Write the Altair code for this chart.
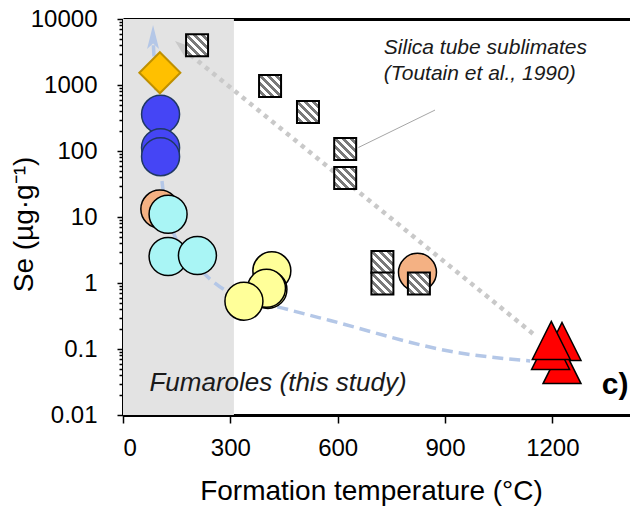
import altair as alt
import pandas as pd

FONT = "Liberation Sans, Arial, sans-serif"

# ---------------- data (temperature in °C, Se in µg/g) ----------------
band_T = [0, 310]

blue_T = [105, 105, 105]
blue_Se = [360, 112, 82]

diamond_T = [103]
diamond_Se = [1535]

salmon_T = [103, 823]
salmon_Se = [13.2, 1.45]

cyan_T = [126, 126, 208]
cyan_Se = [11.0, 2.52, 2.6]

yellow_T = [416, 405, 401, 338]
yellow_Se = [1.53, 0.80, 0.83, 0.53]

tri_T = [1227, 1227, 1195, 1197]
tri_Se = [0.13, 0.058, 0.095, 0.135]

silica_T = [207, 411, 517, 621, 621, 725, 725, 827]
silica_Se = [4000, 966, 390, 107, 39, 2.08, 0.98, 0.98]

fum_trend_T = [85, 109, 140, 221, 290, 459, 579, 942, 1138]
fum_trend_Se = [4000, 35, 6, 1.5, 0.75, 0.4, 0.27, 0.087, 0.066]

silica_trend_T = [168, 1146]
silica_trend_Se = [3510, 0.17]

blue_arrow_T = [84]
blue_arrow_Se = [5340]
gray_arrow_T = [167]
gray_arrow_Se = [3720]

leader_T = [658, 872]
leader_Se = [113, 417]

silica_label = ["Silica tube sublimates", "(Toutain et al., 1990)"]
silica_label_T = [729, 729]
silica_label_Se = [2920, 1178]

fum_label = ["Fumaroles (this study)"]
fum_label_T = [74]
fum_label_Se = [0.0231]

panel_label = ["c)"]
panel_label_T = [1338]
panel_label_Se = [0.0208]

x_ticks = [0, 300, 600, 900, 1200]
y_ticks = [0.01, 0.1, 1, 10, 100, 1000, 10000]
y_minor = [m * 10.0 ** e for e in range(-2, 4) for m in range(2, 10)]

# ---------------- scales / axes ----------------
xscale = alt.Scale(domain=[0, 1417], nice=False, zero=False)
yscale = alt.Scale(type="log", domain=[0.01, 10000], nice=False)

MAJOR = "abs(log(datum.value)/LN10 - round(log(datum.value)/LN10)) < 0.001"

yaxis = alt.Axis(
    values=y_ticks + y_minor,
    format="~g",
    labelExpr=f"({MAJOR}) ? datum.label : ''",
    tickSize={"condition": {"test": MAJOR, "value": 6}, "value": 4},
    tickColor="black", tickWidth=1.5,
    domainColor="black", domainWidth=3,
    labelFont=FONT, labelFontSize=24, labelColor="black", labelPadding=20,
    labelOverlap=False, grid=False,
    title="Se (µg·g⁻¹)", titleFont=FONT, titleFontSize=28, titleFontWeight="normal",
    titleColor="black", titleAngle=270, titleBaseline="bottom", titleAlign="center",
    titleX=-85, titleY=205,
)

xaxis_bottom = alt.Axis(
    values=x_ticks, format="d", tickSize=8, tickColor="black", tickWidth=1.5,
    domainColor="black", domainWidth=3,
    labelFont=FONT, labelFontSize=24, labelColor="black", labelPadding=13,
    grid=False,
    title="Formation temperature (°C)", titleFont=FONT, titleFontSize=28,
    titleFontWeight="normal", titleColor="black",
    titleX=248, titleY=84, titleBaseline="alphabetic", titleAlign="center",
)

xaxis_top = alt.Axis(
    orient="top", ticks=False, labels=False, title="", grid=False,
    domainColor="black", domainWidth=3,
)


def X(axis=None):
    return alt.X("T:Q", scale=xscale, axis=axis)


def Y():
    return alt.Y("Se:Q", scale=yscale, axis=yaxis)


def df(T, Se, **extra):
    d = {"T": T, "Se": Se}
    d.update(extra)
    return pd.DataFrame(d)


# hatch pattern for the silica-tube squares (diagonal stripes)
n = 11
stops = []
for i in range(n):
    c = "#7a7a7a" if i % 2 else "#ffffff"
    stops.append(alt.GradientStop(color=c, offset=i / n))
    stops.append(alt.GradientStop(color=c, offset=(i + 1) / n))
hatch = alt.LinearGradient(gradient="linear", x1=0, y1=1, x2=1, y2=0, stops=stops)

# ---------------- layers ----------------
band = alt.Chart(pd.DataFrame({"T0": [band_T[0]], "T1": [band_T[1]]})).mark_rect(
    color="#e3e3e3"
).encode(x=alt.X("T0:Q", scale=xscale, axis=xaxis_top), x2="T1:Q")

silica_trend = alt.Chart(df(silica_trend_T, silica_trend_Se)).mark_line(
    color="#c9c9c9", strokeWidth=4.5, strokeDash=[4.5, 5], strokeCap="butt"
).encode(x=X(), y=Y())

fum_trend = alt.Chart(df(fum_trend_T, fum_trend_Se)).mark_line(
    color="#b4c7e7", strokeWidth=3.5, strokeDash=[11, 6], interpolate="monotone"
).encode(x=X(xaxis_bottom), y=Y())

blue_arrow = alt.Chart(df(blue_arrow_T, blue_arrow_Se)).mark_point(
    shape="M0,-1L0.5,1L0,0.55L-0.5,1Z", filled=True, size=576,
    color="#b4c7e7", opacity=1
).encode(x=X(), y=Y())

gray_arrow = alt.Chart(df(gray_arrow_T, gray_arrow_Se)).mark_point(
    shape="M0,-1L0.7,1L0,0.5L-0.7,1Z", filled=True, size=400, angle=309,
    color="#c9c9c9", opacity=1
).encode(x=X(), y=Y())

salmon = alt.Chart(df(salmon_T, salmon_Se)).mark_circle(
    size=1444, fill="#f4b183", stroke="black", strokeWidth=1.5, opacity=1
).encode(x=X(), y=Y())

squares = alt.Chart(df(silica_T, silica_Se)).mark_square(
    size=484, fill=hatch, stroke="black", strokeWidth=2, opacity=1
).encode(x=X(), y=Y())

blue = alt.Chart(df(blue_T, blue_Se)).mark_circle(
    size=1444, fill="#4545f5", stroke="#1f3864", strokeWidth=1.5, opacity=1
).encode(x=X(), y=Y())

cyan = alt.Chart(df(cyan_T, cyan_Se)).mark_circle(
    size=1444, fill="#a9f5f5", stroke="black", strokeWidth=1.5, opacity=1
).encode(x=X(), y=Y())

yellow = alt.Chart(df(yellow_T, yellow_Se)).mark_circle(
    size=1444, fill="#ffff99", stroke="black", strokeWidth=1.5, opacity=1
).encode(x=X(), y=Y())

diamond = alt.Chart(df(diamond_T, diamond_Se)).mark_point(
    shape="diamond", filled=True, size=1681, fill="#ffc000",
    stroke="#bf9000", strokeWidth=2, opacity=1
).encode(x=X(), y=Y())

triangles = alt.Chart(df(tri_T, tri_Se)).mark_point(
    shape="M0,-1L1,1L-1,1Z", filled=True, size=1444, fill="#ff0000",
    stroke="black", strokeWidth=1.5, opacity=1
).encode(x=X(), y=Y())

leader = alt.Chart(df(leader_T, leader_Se)).mark_line(
    color="#a6a6a6", strokeWidth=1
).encode(x=X(), y=Y())

silica_text = alt.Chart(df(silica_label_T, silica_label_Se, txt=silica_label)).mark_text(
    align="left", baseline="alphabetic", font=FONT, fontSize=21,
    fontStyle="italic", color="#1a1a1a"
).encode(x=X(), y=Y(), text="txt:N")

fum_text = alt.Chart(df(fum_label_T, fum_label_Se, txt=fum_label)).mark_text(
    align="left", baseline="alphabetic", font=FONT, fontSize=26,
    fontStyle="italic", color="#1a1a1a"
).encode(x=X(), y=Y(), text="txt:N")

panel_text = alt.Chart(df(panel_label_T, panel_label_Se, txt=panel_label)).mark_text(
    align="left", baseline="alphabetic", font=FONT, fontSize=30,
    fontWeight="bold", color="black"
).encode(x=X(), y=Y(), text="txt:N")

chart = alt.layer(
    band, silica_trend, fum_trend, blue_arrow, gray_arrow,
    salmon, squares, blue, cyan, yellow, diamond, triangles,
    leader, silica_text, fum_text, panel_text,
).resolve_axis(x="independent").properties(
    width=507, height=396,
    autosize=alt.AutoSizeParams(type="none"),
    padding={"left": 115, "top": 11, "right": 0, "bottom": 92},
).configure_view(stroke="#7f7f7f", strokeWidth=1).configure(font=FONT)

chart.save("out.html", embed_options={"renderer": "svg", "actions": False})
